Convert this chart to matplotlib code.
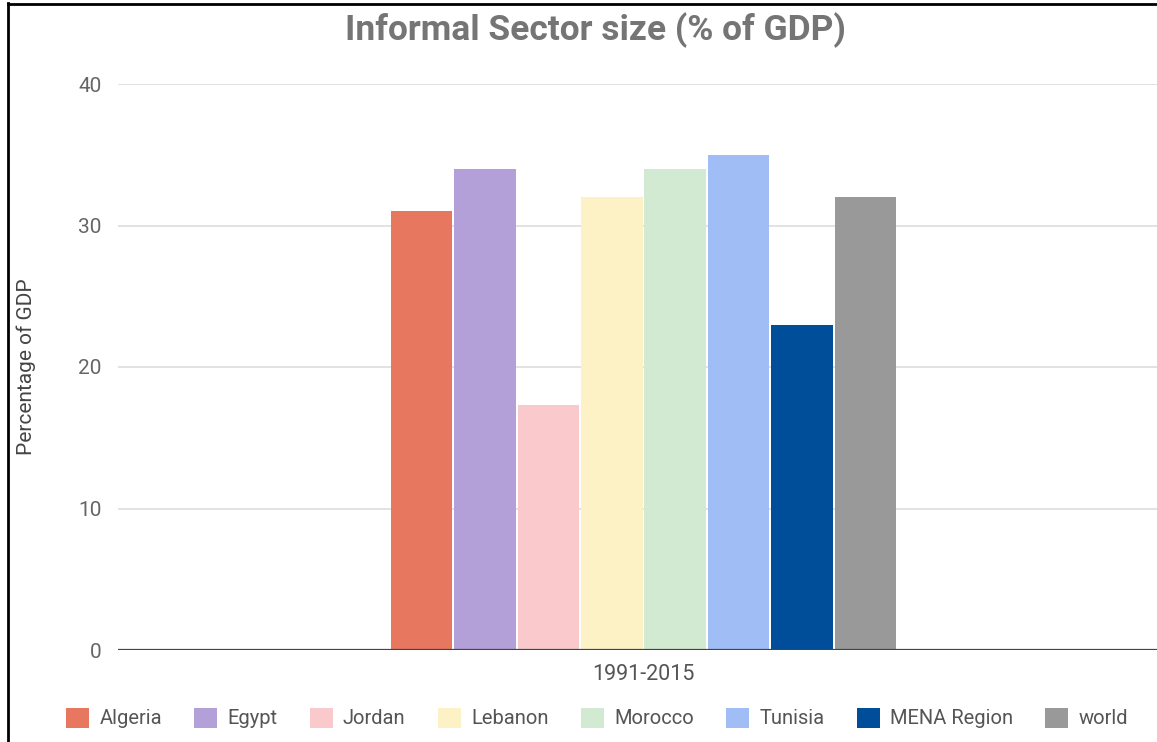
import matplotlib
matplotlib.use("Agg")
import matplotlib.pyplot as plt
from matplotlib.lines import Line2D

categories = ["1991-2015"]
series = ["Algeria", "Egypt", "Jordan", "Lebanon", "Morocco", "Tunisia", "MENA Region", "world"]
values = [31, 34, 17.3, 32, 34, 35, 23, 32]
colors = ["#E8775F", "#B4A0D9", "#F9C9CB", "#FDF2C6", "#D3EAD2", "#A0BEF5", "#004E9A", "#999999"]
yticks = [0, 10, 20, 30, 40]

plt.rcParams['font.family'] = ['Roboto', 'DejaVu Sans']

fig = plt.figure(figsize=(11.57, 7.42), dpi=100)
ax = fig.add_axes([118/1157, 1-650/742, (1169-118)/1157, (650-84)/742])

n = len(series)
slot = 0.0603
bw = 0.0585
handles = []
for i, (s, v, c) in enumerate(zip(series, values, colors)):
    x = 0 + (i - (n-1)/2) * slot
    b = ax.bar(x, v, width=bw, color=c, label=s, zorder=3)
    handles.append(b)

ax.set_xlim(-0.5, 0.5)
ax.set_ylim(0, 40)
ax.set_yticks(yticks)
ax.set_yticklabels([str(t) for t in yticks], fontsize=15, color="#666666")
ax.set_xticks([0])
ax.set_xticklabels(categories, fontsize=15.5, color="#555555")
ax.tick_params(axis='y', length=0, pad=12)
ax.tick_params(axis='x', length=0, pad=10)
ax.grid(axis='y', color="#dddddd", linewidth=1.2, zorder=0)
for sp in ax.spines.values():
    sp.set_visible(False)
ax.axhline(0, color="#444444", linewidth=1.6, zorder=4)

ax.set_ylabel("Percentage of GDP", fontsize=15, color="#444444")
ax.yaxis.set_label_coords(-0.078, 0.5)

fig.text(595/1157, 1-30/742, "Informal Sector size (% of GDP)", ha='center', va='center',
         fontsize=25.5, fontweight='bold', color="#757575")

leg = fig.legend(handles=[h[0] for h in handles], labels=series, loc='center',
                 bbox_to_anchor=(597/1157, 1-718/742), ncol=8, frameon=False,
                 fontsize=14.5, handlelength=1.15, handleheight=1.15, handletextpad=0.5,
                 columnspacing=1.6, labelcolor="#555555")

# image frame (left and top)
fig.add_artist(Line2D([8/1157, 8/1157], [0, 1-3/742], color='black', linewidth=2, transform=fig.transFigure))
fig.add_artist(Line2D([8/1157, 1], [1-4/742, 1-4/742], color='black', linewidth=2, transform=fig.transFigure))

fig.savefig("out.png", dpi=100)
